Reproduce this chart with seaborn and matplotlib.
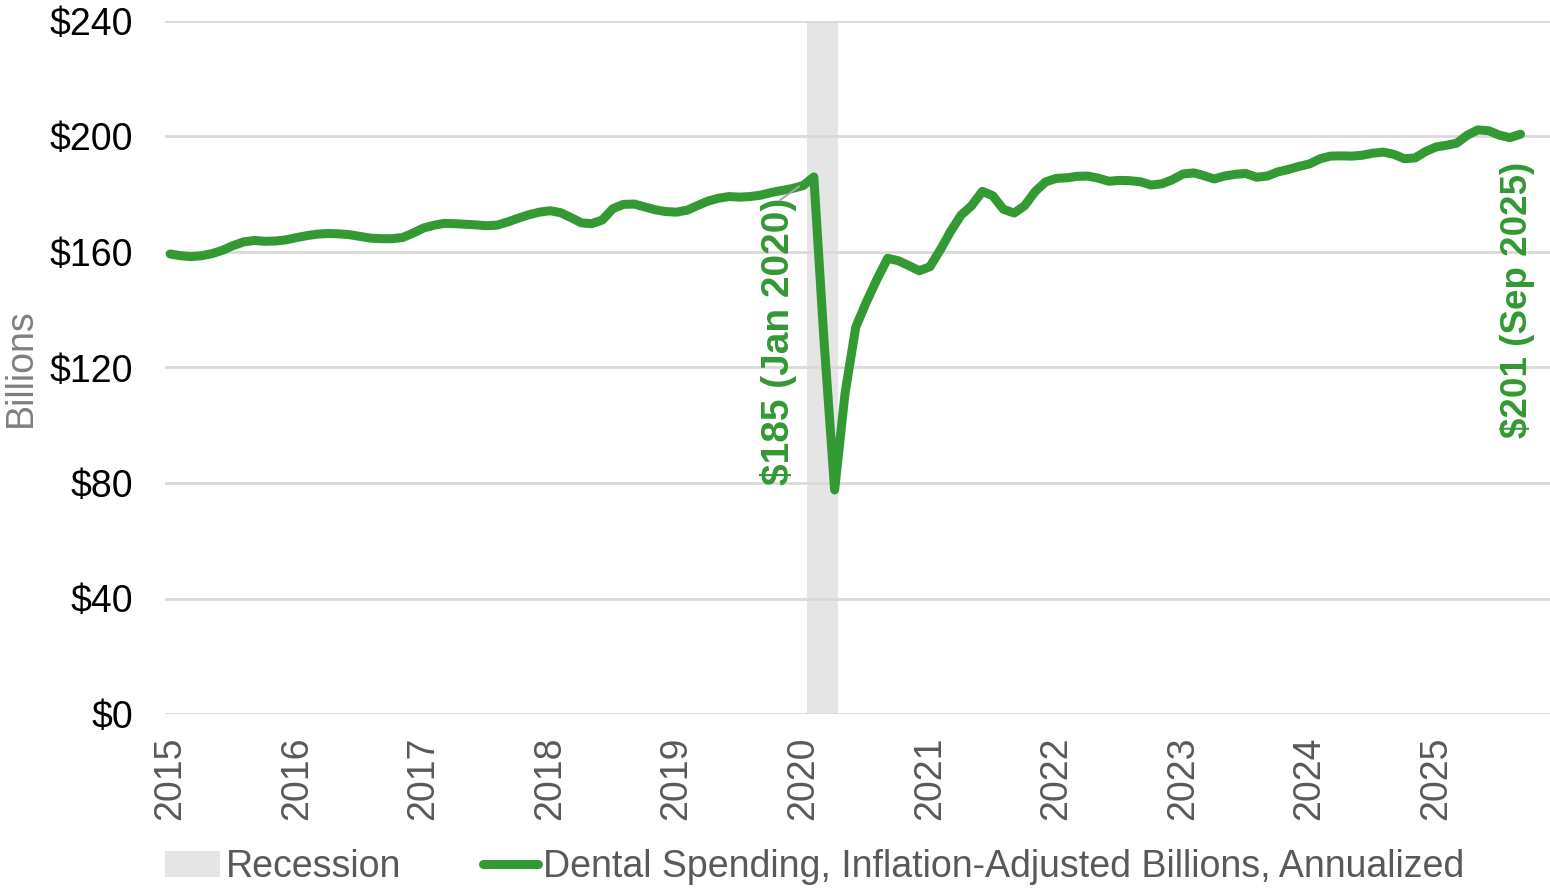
import numpy as np
import pandas as pd
import matplotlib
matplotlib.use("Agg")
import matplotlib.pyplot as plt
import seaborn as sns
from matplotlib.patches import Patch
from matplotlib.lines import Line2D

# ---------------- data ----------------
start_month = "2015-01-01"
spending_2015 = [159.3, 158.7, 158.4, 158.7, 159.4, 160.6, 162.2, 163.5, 164.0, 163.7, 163.8, 164.2]
spending_2016 = [165.0, 165.7, 166.2, 166.4, 166.3, 166.0, 165.4, 164.8, 164.6, 164.6, 165.0, 166.5]
spending_2017 = [168.3, 169.3, 169.9, 169.8, 169.6, 169.4, 169.1, 169.3, 170.4, 171.7, 172.9, 173.8]
spending_2018 = [174.3, 173.6, 172.0, 170.1, 169.8, 171.1, 175.0, 176.5, 176.6, 175.6, 174.6, 174.0]
spending_2019 = [173.8, 174.5, 176.0, 177.6, 178.6, 179.2, 179.0, 179.2, 179.7, 180.6, 181.3, 182.0]
spending_2020 = [183.0, 186.0, 130.0, 77.6, 111.0, 134.0, 142.5, 150.5, 157.8, 157.0, 155.3, 153.5]
spending_2021 = [154.9, 161.0, 167.0, 172.8, 176.0, 181.0, 179.5, 174.8, 173.5, 176.0, 181.0, 184.3]
spending_2022 = [185.5, 185.7, 186.2, 186.3, 185.6, 184.5, 184.8, 184.7, 184.3, 183.2, 183.6, 185.0]
spending_2023 = [187.0, 187.4, 186.5, 185.3, 186.3, 186.9, 187.2, 185.9, 186.3, 187.7, 188.6, 189.6]
spending_2024 = [190.5, 192.3, 193.2, 193.3, 193.2, 193.5, 194.2, 194.6, 193.8, 192.3, 192.6, 194.8]
spending_2025 = [196.4, 197.0, 197.7, 200.5, 202.3, 202.0, 200.5, 199.6, 200.8]

recession_start = "2020-01-12"
recession_end = "2020-04-12"

y_ticks = [0, 40, 80, 120, 160, 200, 240]
y_tick_labels = ["$0", "$40", "$80", "$120", "$160", "$200", "$240"]
x_tick_years = list(range(2015, 2026))

label_peak = "$185 (Jan 2020)"
label_last = "$201 (Sep 2025)"
legend_recession = "Recession"
legend_series = "Dental Spending, Inflation-Adjusted Billions, Annualized"
y_label = "Billions"

values = (spending_2015 + spending_2016 + spending_2017 + spending_2018 + spending_2019
          + spending_2020 + spending_2021 + spending_2022 + spending_2023 + spending_2024
          + spending_2025)
dates = pd.date_range(start_month, periods=len(values), freq="MS")
df = pd.DataFrame({"date": dates, "value": values})

# ---------------- style ----------------
GREEN = "#339933"
GRID = "#d9d9d9"
REC = "#e5e5e5"
TXT_GRAY = "#595959"
FS = 27

sns.set_theme(style="white")
plt.rcParams["font.family"] = ["Liberation Sans", "DejaVu Sans"]

fig = plt.figure(figsize=(15.5, 8.88), dpi=100)
ax = fig.add_axes([165 / 1550, 1 - 714 / 888, 1 - 165 / 1550, (714 - 21) / 888])

ax.axvspan(pd.Timestamp(recession_start), pd.Timestamp(recession_end),
           color=REC, zorder=0, lw=0)

sns.lineplot(data=df, x="date", y="value", ax=ax, color=GREEN, lw=6.5,
             zorder=3, legend=False)
for line in ax.lines:
    line.set_solid_capstyle("round")
    line.set_solid_joinstyle("round")

ax.set_ylim(0, 240)
ax.set_yticks(y_ticks)
ax.set_yticklabels(y_tick_labels)
ax.set_xlim(pd.Timestamp("2014-12-17"), pd.Timestamp("2025-11-25"))
ax.set_xticks([pd.Timestamp(f"{y}-01-01") for y in x_tick_years])
ax.set_xticklabels([str(y) for y in x_tick_years], rotation=90)

ax.grid(axis="y", color=GRID, lw=2, zorder=1)
ax.grid(axis="x", visible=False)
ax.set_axisbelow(True)
for s in ax.spines.values():
    s.set_visible(False)

ax.tick_params(axis="y", length=0, pad=23, labelsize=FS, labelcolor="black")
ax.tick_params(axis="x", length=0, pad=16, labelsize=FS, labelcolor=TXT_GRAY)
ax.set_xlabel("")
ax.set_ylabel(y_label, fontsize=FS, color="#7f7f7f", labelpad=8)

# annotations
jan2020 = df.loc[df["date"] == pd.Timestamp("2020-01-01")]
xj = jan2020["date"].iloc[0]
yj = jan2020["value"].iloc[0]
text_x = xj - pd.Timedelta(days=70)
ax.text(text_x, 79.3, label_peak, rotation=90, ha="center", va="bottom",
        fontsize=28, fontweight="bold", color=GREEN, zorder=4)
# leader line from top of label to the Jan 2020 point
ax.annotate("", xy=(xj - pd.Timedelta(days=12), yj - 0.3),
            xytext=(text_x + pd.Timedelta(days=4), 178.0),
            arrowprops=dict(arrowstyle="-", color="#a6a6a6", lw=1.5,
                            shrinkA=0, shrinkB=0), zorder=5)

last = df.iloc[-1]
ax.text(last["date"] - pd.Timedelta(days=8), 95.6, label_last, rotation=90,
        ha="center", va="bottom", fontsize=26.5, fontweight="bold", color=GREEN, zorder=4)

handles = [Patch(facecolor=REC, edgecolor="none", label=legend_recession),
           Line2D([0], [0], color=GREEN, lw=6.5, solid_capstyle="round", label=legend_series)]
leg = fig.legend(handles=handles, loc="center", bbox_to_anchor=(815 / 1550, 1 - 867 / 888),
                 ncol=2, frameon=False, fontsize=FS, handlelength=1.45,
                 handletextpad=0.15, columnspacing=2.2, borderpad=0, borderaxespad=0)
for t in leg.get_texts():
    t.set_color(TXT_GRAY)

fig.savefig("out.png", dpi=100)
